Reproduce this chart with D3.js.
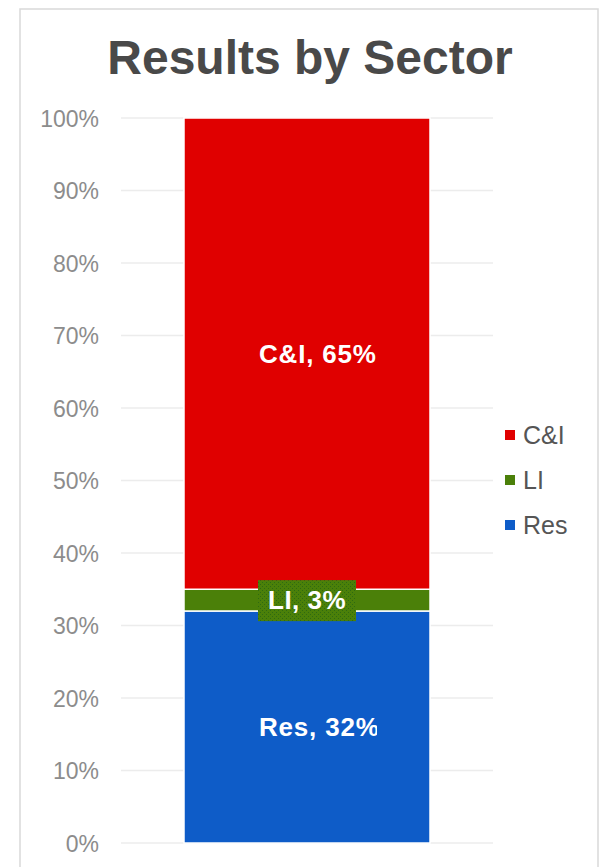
<!DOCTYPE html>
<html><head><meta charset="utf-8">
<script src="https://cdn.jsdelivr.net/npm/d3@7"></script>
<style>html,body{margin:0;padding:0;background:#fff;}svg{display:block;font-family:"Liberation Sans",Arial,sans-serif;}</style>
</head><body>
<script>
const title = "Results by Sector";
const series = ["Res", "LI", "C&I"];
const values = [32, 3, 65];
const colors = ["#0e5cc8", "#4b8009", "#e00000"];
const legendOrder = ["C&I", "LI", "Res"];
const tickValues = [0,10,20,30,40,50,60,70,80,90,100];
const category = ["Total"];

const W = 603, H = 867;
const svg = d3.select("body").append("svg").attr("width", W).attr("height", H);

svg.append("rect").attr("x", 20).attr("y", 9).attr("width", 578).attr("height", 900)
  .attr("fill", "#fff").attr("stroke", "#d9d9d9").attr("stroke-width", 1.5);

svg.append("text").attr("x", 310).attr("y", 74).attr("text-anchor", "middle")
  .attr("font-size", 48).attr("font-weight", "bold").attr("fill", "#494949").text(title);

const y = d3.scaleLinear().domain([0, 100]).range([843, 118]);

const grid = svg.append("g");
grid.selectAll("line").data(tickValues).join("line")
  .attr("x1", 121).attr("x2", 493).attr("y1", d => y(d)).attr("y2", d => y(d))
  .attr("stroke", "#ececec").attr("stroke-width", 1.5);

const axis = d3.axisLeft(y).tickValues(tickValues).tickFormat(d => d + "%").tickSize(0).tickPadding(0);
const ag = svg.append("g").attr("transform", "translate(99,0)").call(axis);
ag.select(".domain").remove();
ag.selectAll("text").attr("font-size", 23).attr("fill", "#8c8c8c")
  .attr("font-family", "'Liberation Sans',Arial,sans-serif").attr("dy", "0.36em");

const stackData = [Object.fromEntries(series.map((s, i) => [s, values[i]]))];
const stacked = d3.stack().keys(series)(stackData);
const color = d3.scaleOrdinal().domain(series).range(colors);

const defs = svg.append("defs");
const pat = defs.append("pattern").attr("id", "hatch").attr("patternUnits", "userSpaceOnUse")
  .attr("width", 4).attr("height", 4);
pat.append("rect").attr("width", 4).attr("height", 4).attr("fill", "#4b8009");
pat.append("rect").attr("x", 0).attr("y", 0).attr("width", 1).attr("height", 1).attr("fill", "#2e6a12");
pat.append("rect").attr("x", 2).attr("y", 2).attr("width", 1).attr("height", 1).attr("fill", "#2e6a12");

const bx0 = 184, bx1 = 430;
svg.append("g").selectAll("rect").data(stacked).join("rect")
  .attr("x", bx0).attr("width", bx1 - bx0)
  .attr("y", d => y(d[0][1])).attr("height", d => y(d[0][0]) - y(d[0][1]))
  .attr("fill", d => color(d.key)).attr("stroke", "#fff").attr("stroke-width", 1.5);

const cx = (bx0 + bx1) / 2;
stacked.forEach((d, i) => {
  const mid = y((d[0][0] + d[0][1]) / 2);
  const label = d.key + ", " + values[i] + "%";
  const clipId = "clip" + i;
  if (d.key === "LI") {
    svg.append("rect").attr("x", 258).attr("y", mid - 20).attr("width", 98).attr("height", 41)
      .attr("fill", "url(#hatch)");
    svg.append("text").attr("x", 268).attr("y", mid).attr("dy", "0.36em").attr("text-anchor", "start")
      .attr("font-size", 26).attr("font-weight", "bold").attr("fill", "#fff")
      .attr("letter-spacing", 0.5).text(label);
  } else {
    defs.append("clipPath").attr("id", clipId).append("rect")
      .attr("x", 230).attr("y", mid - 30).attr("width", 147).attr("height", 60);
    svg.append("text").attr("clip-path", `url(#${clipId})`)
      .attr("x", 259).attr("y", mid).attr("dy", "0.36em").attr("text-anchor", "start")
      .attr("font-size", 26).attr("font-weight", "bold").attr("fill", "#fff")
      .attr("letter-spacing", 0.8).text(label);
  }
});

const lg = svg.append("g");
const ly = d3.scalePoint().domain(legendOrder).range([435, 525]);
legendOrder.forEach(k => {
  lg.append("rect").attr("x", 505).attr("y", ly(k) - 5).attr("width", 10).attr("height", 10).attr("fill", color(k));
  lg.append("text").attr("x", 523).attr("y", ly(k)).attr("dy", "0.36em")
    .attr("font-size", 25).attr("fill", "#555555").text(k);
});
</script>
</body></html>
